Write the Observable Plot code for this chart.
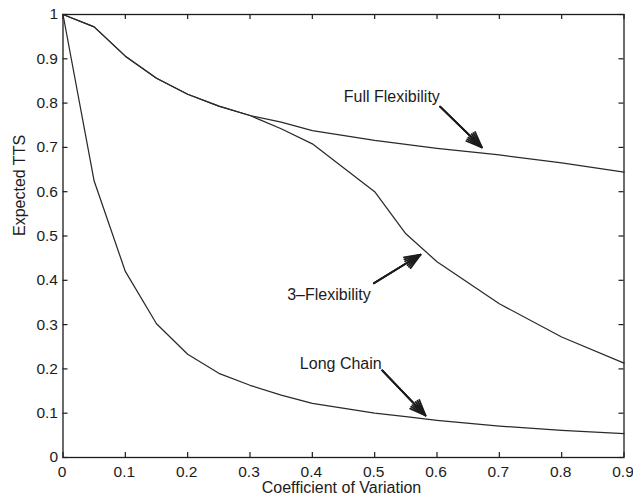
<!DOCTYPE html>
<html>
<head>
<meta charset="utf-8">
<script src="https://cdn.jsdelivr.net/npm/d3@7"></script>
<script src="https://cdn.jsdelivr.net/npm/@observablehq/plot@0.6"></script>
<style>
  html, body { margin: 0; padding: 0; background: #fff; }
  #chart svg { display: block; }
</style>
</head>
<body>
<div id="chart"></div>
<script>
// Coefficient of variation (x)
const cv = [0, 0.05, 0.1, 0.15, 0.2, 0.25, 0.3, 0.35, 0.4, 0.5, 0.55, 0.6, 0.7, 0.8, 0.9];
// Expected TTS per configuration
const fullFlexibility = [1, 0.972, 0.906, 0.856, 0.820, 0.793, 0.772, 0.757, 0.738, 0.716, 0.707, 0.698, 0.683, 0.665, 0.644];
const threeFlexibility = [1, 0.972, 0.906, 0.856, 0.820, 0.793, 0.772, 0.742, 0.708, 0.600, 0.505, 0.442, 0.347, 0.272, 0.213];
const longChain = [1, 0.624, 0.420, 0.302, 0.233, 0.190, 0.163, 0.141, 0.122, 0.100, 0.092, 0.084, 0.071, 0.061, 0.054];

const xTicks = [0, 0.1, 0.2, 0.3, 0.4, 0.5, 0.6, 0.7, 0.8, 0.9];
const xTickLabels = ["0", "0.1", "0.2", "0.3", "0.4", "0.5", "0.6", "0.7", "0.8", "0.9"];
const yTicks = [0, 0.1, 0.2, 0.3, 0.4, 0.5, 0.6, 0.7, 0.8, 0.9, 1];
const yTickLabels = ["0", "0.1", "0.2", "0.3", "0.4", "0.5", "0.6", "0.7", "0.8", "0.9", "1"];

// Annotations: label text, label anchor, arrow start and arrow tip (in data units)
const labelNames = ["Full Flexibility", "3\u2013Flexibility", "Long Chain"];
const labelX = [0.4505, 0.3597, 0.380];
const labelY = [0.815, 0.368, 0.2115];
const arrowX1 = [0.605, 0.4987, 0.5121];
const arrowY1 = [0.792, 0.3935, 0.1964];
const arrowX2 = [0.672, 0.5736, 0.5816];
const arrowY2 = [0.700, 0.458, 0.0948];

const series = [
  {name: "Full Flexibility", values: fullFlexibility},
  {name: "3-Flexibility", values: threeFlexibility},
  {name: "Long Chain", values: longChain}
];
const lineData = series.flatMap(s => cv.map((x, i) => ({series: s.name, x, y: s.values[i]})));
const labels = labelNames.map((t, i) => ({t, x: labelX[i], y: labelY[i]}));
const arrows = labelNames.map((t, i) => ({x1: arrowX1[i], y1: arrowY1[i], x2: arrowX2[i], y2: arrowY2[i]}));

const ink = "#1c1c1c";
const font = "'Liberation Sans', Arial, Helvetica, sans-serif";
const arrowOpts = {x1: "x1", y1: "y1", x2: "x2", y2: "y2", stroke: ink, strokeWidth: 1.8, headLength: 14};

// inward tick length (~5px) expressed as a fraction of each domain
const xDom = [0, 0.9], yDom = [0, 1];
const tickLenY = 0.0115 * (yDom[1] - yDom[0]);
const tickLenX = 0.0089 * (xDom[1] - xDom[0]);

const chart = Plot.plot({
  width: 633,
  height: 502,
  marginLeft: 62.5,
  marginRight: 9.5,
  marginTop: 14,
  marginBottom: 45,
  style: {fontFamily: font, fontSize: "16px", color: ink, background: "#fff"},
  x: {domain: xDom},
  y: {domain: yDom},
  marks: [
    // tick labels
    Plot.axisX({ticks: xTicks, tickFormat: (d, i) => xTickLabels[i], tickSize: 0, tickPadding: 8, dx: -1, fontSize: 15.5, fill: ink, label: null}),
    Plot.axisY({ticks: yTicks, tickFormat: (d, i) => yTickLabels[i], tickSize: 0, tickPadding: 5, fontSize: 15.5, fill: ink, label: null}),
    // inward tick marks on all four sides
    Plot.ruleX(xTicks, {x: d => d, y1: yDom[0], y2: yDom[0] + tickLenY, stroke: ink, strokeWidth: 1.2}),
    Plot.ruleX(xTicks, {x: d => d, y1: yDom[1], y2: yDom[1] - tickLenY, stroke: ink, strokeWidth: 1.2}),
    Plot.ruleY(yTicks, {y: d => d, x1: xDom[0], x2: xDom[0] + tickLenX, stroke: ink, strokeWidth: 1.2}),
    Plot.ruleY(yTicks, {y: d => d, x1: xDom[1], x2: xDom[1] - tickLenX, stroke: ink, strokeWidth: 1.2}),
    Plot.frame({stroke: ink, strokeWidth: 1.3}),
    Plot.line(lineData, {x: "x", y: "y", z: "series", stroke: "#2a2a2a", strokeWidth: 1.25}),
    Plot.text(labels, {x: "x", y: "y", text: "t", textAnchor: "start", lineAnchor: "middle", fontSize: 16, fill: ink}),
    Plot.arrow(arrows, {...arrowOpts, headAngle: 44}),
    Plot.arrow(arrows, {...arrowOpts, headAngle: 30}),
    Plot.arrow(arrows, {...arrowOpts, headAngle: 16}),
    Plot.text(["Coefficient of Variation"], {frameAnchor: "bottom", dy: 30, dx: -2, lineAnchor: "middle", fontSize: 16, fill: ink}),
    Plot.text(["Expected TTS"], {frameAnchor: "left", dx: -43.5, rotate: -90, lineAnchor: "middle", fontSize: 16, fill: ink})
  ]
});
document.getElementById("chart").appendChild(chart);
</script>
</body>
</html>
